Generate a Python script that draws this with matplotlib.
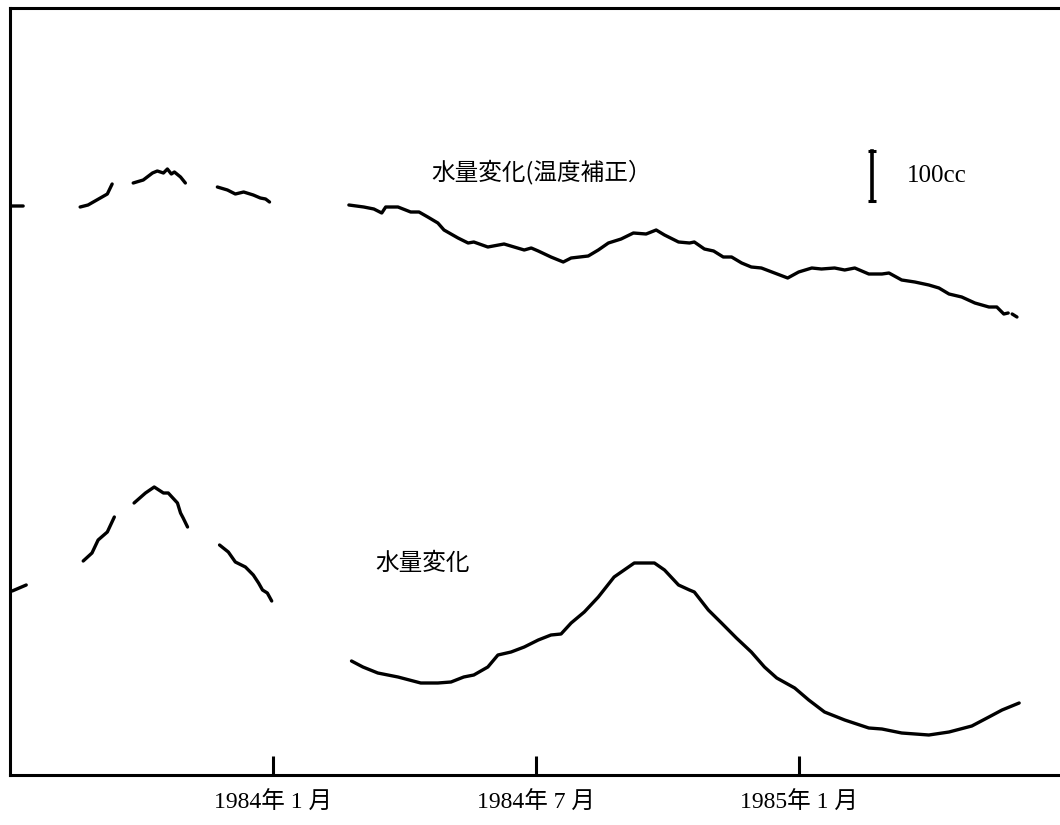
import numpy as np
import matplotlib
matplotlib.use("Agg")
import matplotlib.pyplot as plt

nan = np.nan

# x: months since July 1983; y: water volume (cc, arbitrary origin)
corr_x = [0.0, 0.3, nan,
          1.60, 1.78, 1.94, 2.06, 2.22, 2.33, nan,
          2.81, 3.04, 3.25, 3.36, 3.50, 3.59, 3.68, 3.75, 3.89, 4.00, nan,
          4.73, 4.96, 5.14, 5.33, 5.55, 5.71, 5.83, 5.92, nan,
          7.73, 8.07, 8.30, 8.48, 8.57, 8.85, 9.14, 9.33, 9.53, 9.76, 9.90, 10.22, 10.45, 10.58,
          10.90, 11.27, 11.50, 11.73, 11.89, 12.05, 12.34, 12.62, 12.80, 13.19, 13.42, 13.65,
          13.94, 14.22, 14.51, 14.74, 14.93, 15.25, 15.50, 15.61, 15.84, 16.05, 16.27, 16.46,
          16.69, 16.91, 17.14, 17.44, 17.74, 17.99, 18.29, 18.51, 18.81, 19.04, 19.27, 19.59,
          19.89, 20.05, 20.34, 20.64, 20.96, 21.19, 21.42, 21.71, 22.01, 22.33, 22.51, 22.67,
          22.77, nan,
          22.86, 22.97]
corr_y = [1138, 1138, nan,
          1136, 1140, 1148, 1154, 1162, 1182, nan,
          1184, 1190, 1204, 1208, 1204, 1212, 1202, 1206, 1196, 1184, nan,
          1176, 1170, 1162, 1166, 1160, 1154, 1152, 1146, nan,
          1140, 1136, 1132, 1124, 1136, 1136, 1126, 1126, 1116, 1104, 1090, 1074, 1064, 1066,
          1056, 1062, 1056, 1050, 1054, 1048, 1036, 1026, 1034, 1038, 1050, 1064,
          1072, 1084, 1082, 1090, 1080, 1066, 1064, 1066, 1052, 1048, 1036, 1036,
          1024, 1016, 1014, 1004, 994, 1006, 1014, 1012, 1014, 1010, 1014, 1002,
          1002, 1004, 990, 986, 980, 974, 962, 956, 944, 936, 936, 922,
          924, nan,
          922, 916]

raw_x = [0.05, 0.37, nan,
         1.67, 1.87, 2.01, 2.22, 2.38, nan,
         2.83, 3.09, 3.29, 3.50, 3.61, 3.82, 3.89, 3.95, 4.05, nan,
         4.78, 4.98, 5.14, 5.37, 5.55, 5.67, 5.76, 5.87, 5.97, nan,
         7.79, 8.05, 8.39, 8.85, 9.37, 9.76, 10.06, 10.35, 10.58, 10.90, 11.13, 11.43,
         11.73, 12.05, 12.34, 12.57, 12.80, 13.10, 13.42, 13.78, 14.01, 14.24, 14.70, 14.93,
         15.25, 15.50, 15.61, 15.93, 16.23, 16.57, 16.91, 17.21, 17.49, 17.90, 18.22, 18.58,
         19.04, 19.59, 19.89, 20.34, 20.96, 21.42, 21.94, 22.33, 22.63, 23.02]
raw_y = [368, 380, nan,
         428, 444, 470, 486, 516, nan,
         544, 564, 576, 564, 564, 544, 524, 514, 496, nan,
         460, 446, 426, 416, 400, 384, 370, 364, 348, nan,
         228, 216, 204, 196, 184, 184, 186, 196, 200, 216, 240, 246,
         256, 270, 280, 282, 304, 326, 356, 396, 410, 424, 424, 410,
         380, 370, 366, 330, 304, 274, 246, 216, 194, 174, 150, 126,
         110, 94, 92, 84, 80, 86, 98, 116, 130, 144]

tick_pos = [6, 12, 18]
tick_labels = ["1984年 1 月", "1984年 7 月", "1985年 1 月"]

label_corr = "水量変化(温度補正）"
label_raw = "水量変化"
scale_label = "100cc"
scale_x = 19.66
scale_y = [1148, 1248]

fig = plt.figure(figsize=(10.6, 8.25), dpi=100)
ax = fig.add_axes([10 / 1060, 50 / 825, 1.0 - 10 / 1060 + 0.002, (775 - 8) / 825])

lw = 2.4
ax.plot(corr_x, corr_y, color="black", lw=lw, solid_capstyle="round", solid_joinstyle="round")
ax.plot(raw_x, raw_y, color="black", lw=lw, solid_capstyle="round", solid_joinstyle="round")

# scale bar
ax.plot([scale_x, scale_x], scale_y, color="black", lw=2.6)
ax.plot([scale_x, scale_x], scale_y, color="black", lw=0, marker="_", ms=6, mew=2.2)

ax.set_xlim(0, 24)
ax.set_ylim(0, 1534)

for s in ["left", "bottom", "top"]:
    ax.spines[s].set_linewidth(2.2)
ax.spines["right"].set_visible(False)

ax.set_yticks([])
ax.set_xticks(tick_pos)
ax.set_xticklabels(tick_labels, family=["Liberation Serif", "Noto Sans CJK JP"], fontsize=17)
ax.tick_params(axis="x", direction="in", length=14, width=2.2, pad=12)

cjk = ["Noto Sans CJK JP", "DejaVu Sans"]
ax.text(9.6, 1206, label_corr, family=cjk, fontsize=17, va="center", ha="left")
ax.text(8.34, 424, label_raw, family=cjk, fontsize=17, va="center", ha="left")
ax.text(20.46, 1198, scale_label, family=["Liberation Serif"], fontsize=18, va="center", ha="left")

fig.savefig("out.png", dpi=100)
